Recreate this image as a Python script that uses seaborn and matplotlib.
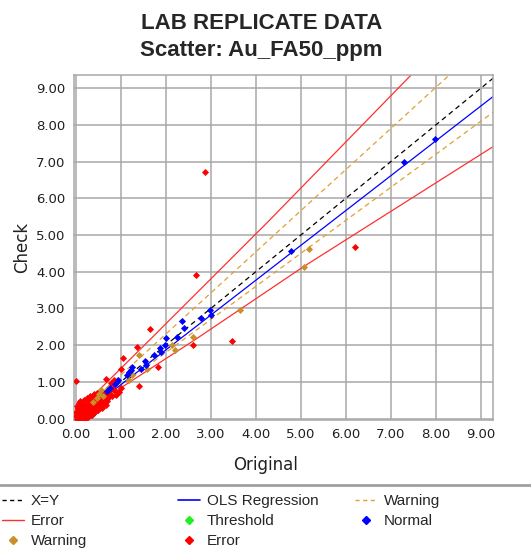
import matplotlib
matplotlib.use("Agg")
import matplotlib.pyplot as plt
from matplotlib.lines import Line2D
import seaborn as sns

# reference lines (x, y pairs)
xy_x = [0.0, 9.4]
xy_y = [0.0, 9.4]
ols_x = [0.6, 9.3]
ols_y = [0.54, 8.80]
warn_hi_x = [0.0, 8.30]
warn_hi_y = [0.06, 9.36]
warn_lo_x = [0.0, 9.3]
warn_lo_y = [0.0, 8.37]
err_hi_x = [0.0, 1.64, 3.16, 4.27, 7.45]
err_hi_y = [0.15, 2.14, 4.00, 5.36, 9.36]
err_lo_x = [0.0, 2.64, 5.05, 9.3]
err_lo_y = [0.04, 2.14, 4.13, 7.43]

# points by status
normal_x = [7.99, 7.29, 4.78, 2.99, 3.00, 2.79, 2.35, 2.41, 2.24, 2.01, 1.98, 1.90,
            1.88, 1.74, 1.53, 1.56, 1.44, 1.22, 1.25, 1.13, 1.18, 0.94, 0.87, 0.76, 0.70]
normal_y = [7.62, 6.98, 4.56, 2.95, 2.83, 2.75, 2.66, 2.48, 2.23, 2.20, 2.00, 1.82,
            1.92, 1.72, 1.57, 1.45, 1.36, 1.32, 1.40, 1.18, 1.26, 1.04, 0.94, 0.82, 0.74]

warning_x = [5.18, 5.07, 3.64, 2.61, 2.20, 2.13, 1.58, 1.40, 1.24, 1.19, 0.72,
             0.57, 0.46, 0.39, 0.60, 0.52]
warning_y = [4.62, 4.12, 2.97, 2.21, 1.86, 2.00, 1.36, 1.73, 1.18, 1.05, 0.82,
             0.77, 0.55, 0.45, 0.62, 0.68]

error_x = [2.87, 2.66, 6.21, 3.46, 2.61, 1.64, 1.35, 1.83, 1.04, 1.40, 1.01, 0.00,
           0.85, 0.78, 1.00, 0.83, 0.68, 0.62, 0.95, 0.90,
           0.02, 0.03, 0.05, 0.06, 0.08, 0.10, 0.04, 0.12, 0.13, 0.15, 0.16, 0.18,
           0.20, 0.21, 0.23, 0.24, 0.26, 0.28, 0.30, 0.31, 0.33, 0.35, 0.36, 0.38,
           0.40, 0.42, 0.44, 0.45, 0.47, 0.49, 0.50, 0.52, 0.55, 0.57, 0.60, 0.65,
           0.68, 0.72, 0.75, 0.01, 0.07, 0.00, 0.09, 0.14, 0.19, 0.27, 0.11, 0.34,
           0.02, 0.05, 0.17, 0.22, 0.29, 0.37, 0.80, 0.88,
           0.02, 0.08, 0.18, 0.25, 0.32, 0.40, 0.48, 0.55, 0.62, 0.70, 0.66, 0.58,
           0.50, 0.42, 0.35, 0.25, 0.15, 0.38, 0.45, 0.10, 0.30]
error_y = [6.72, 3.92, 4.68, 2.12, 2.00, 2.45, 1.95, 1.41, 1.66, 0.89, 1.36, 1.02,
           1.05, 0.96, 0.82, 0.82, 1.09, 0.70, 0.72, 0.64,
           0.05, 0.12, 0.02, 0.20, 0.08, 0.15, 0.28, 0.05, 0.22, 0.12, 0.30, 0.18,
           0.08, 0.26, 0.35, 0.16, 0.22, 0.30, 0.12, 0.40, 0.26, 0.34, 0.20, 0.45,
           0.30, 0.38, 0.50, 0.26, 0.42, 0.55, 0.35, 0.48, 0.58, 0.40, 0.52, 0.45,
           0.60, 0.55, 0.68, 0.18, 0.35, 0.08, 0.00, 0.38, 0.02, 0.05, 0.42, 0.10,
           0.00, 0.25, 0.10, 0.02, 0.20, 0.28, 0.62, 0.74,
           0.35, 0.42, 0.50, 0.55, 0.62, 0.66, 0.70, 0.74, 0.40, 0.48, 0.36, 0.30,
           0.22, 0.18, 0.10, 0.40, 0.25, 0.55, 0.60, 0.48, 0.50]

C_NORMAL = "#0000ff"
C_WARN_PT = "#c8902a"
C_WARN_LN = "#e0a030"
C_ERR = "#ff0000"
C_ERR_LN = "#ff3030"
C_THRESH = "#22ee22"
GRID = "#a8a8a8"

sns.set_theme(style="whitegrid")
plt.rcParams["font.family"] = ["DejaVu Sans"]

fig = plt.figure(figsize=(5.31, 5.5), dpi=100)
ax = fig.add_axes([74 / 531, 1 - 420 / 550, 419 / 531, 345 / 550])

sns.lineplot(x=err_hi_x, y=err_hi_y, ax=ax, color=C_ERR_LN, lw=0.9, sort=False)
sns.lineplot(x=err_lo_x, y=err_lo_y, ax=ax, color=C_ERR_LN, lw=0.9, sort=False)
sns.lineplot(x=warn_hi_x, y=warn_hi_y, ax=ax, color=C_WARN_LN, lw=0.9, linestyle=(0, (4, 3)))
sns.lineplot(x=warn_lo_x, y=warn_lo_y, ax=ax, color=C_WARN_LN, lw=0.9, linestyle=(0, (4, 3)))
sns.lineplot(x=xy_x, y=xy_y, ax=ax, color="black", lw=0.9, linestyle=(0, (4, 3)))
sns.lineplot(x=ols_x, y=ols_y, ax=ax, color=C_NORMAL, lw=0.9)

sns.scatterplot(x=error_x, y=error_y, ax=ax, color=C_ERR, marker="D", s=13, linewidth=0, zorder=3)
sns.scatterplot(x=warning_x, y=warning_y, ax=ax, color=C_WARN_PT, marker="D", s=13, linewidth=0, zorder=4)
sns.scatterplot(x=normal_x, y=normal_y, ax=ax, color=C_NORMAL, marker="D", s=13, linewidth=0, zorder=5)

ax.set_xlim(-0.04, 9.27)
ax.set_ylim(-0.04, 9.36)
ticks = list(range(10))
ax.set_xticks(ticks)
ax.set_yticks(ticks)
ax.set_xticklabels([f"{t:.2f}" for t in ticks])
ax.set_yticklabels([f"{t:.2f}" for t in ticks])
ax.tick_params(axis="both", length=4, width=1, color=GRID, direction="out",
               labelsize=9.5, labelcolor="#202020", pad=2)
ax.grid(True, color=GRID, lw=1.1)
for sp in ax.spines.values():
    sp.set_color(GRID)
    sp.set_linewidth(1.1)

ax.set_xlabel("Original", fontsize=12, color="#202020")
ax.set_ylabel("Check", fontsize=12, color="#202020")
ax.xaxis.set_label_coords(0.458, -0.105)

fig.text(0.4925, 1 - 29 / 550, "LAB REPLICATE DATA", family="Liberation Sans",
         fontsize=16, fontweight="bold", ha="center", va="baseline")
fig.text(0.4925, 1 - 56 / 550, "Scatter: Au_FA50_ppm", family="Liberation Sans",
         fontsize=16, fontweight="bold", ha="center", va="baseline")

# separator above legend
fig.add_artist(Line2D([0, 1], [1 - 485 / 550] * 2, color="#a0a0a0", lw=2))

dash = (0, (3, 2.5))
columns = [
    (2, [Line2D([], [], color="black", lw=1, linestyle=dash),
         Line2D([], [], color=C_ERR_LN, lw=1),
         Line2D([], [], color=C_WARN_PT, marker="D", ls="none", markersize=4)],
     ["X=Y", "Error", "Warning"]),
    (178, [Line2D([], [], color=C_NORMAL, lw=1.2),
           Line2D([], [], color=C_THRESH, marker="D", ls="none", markersize=4),
           Line2D([], [], color=C_ERR, marker="D", ls="none", markersize=4)],
     ["OLS Regression", "Threshold", "Error"]),
    (355, [Line2D([], [], color=C_WARN_LN, lw=1, linestyle=dash),
           Line2D([], [], color=C_NORMAL, marker="D", ls="none", markersize=4)],
     ["Warning", "Normal"]),
]
for x0, handles, labels in columns:
    fig.legend(handles, labels, loc="upper left", bbox_to_anchor=(x0 / 531, 1 - 494 / 550),
               frameon=False, borderpad=0, borderaxespad=0, handlelength=1.45,
               handletextpad=0.45, labelspacing=0.4,
               prop={"family": "Liberation Sans", "size": 11})

fig.savefig("out.png", dpi=100)
